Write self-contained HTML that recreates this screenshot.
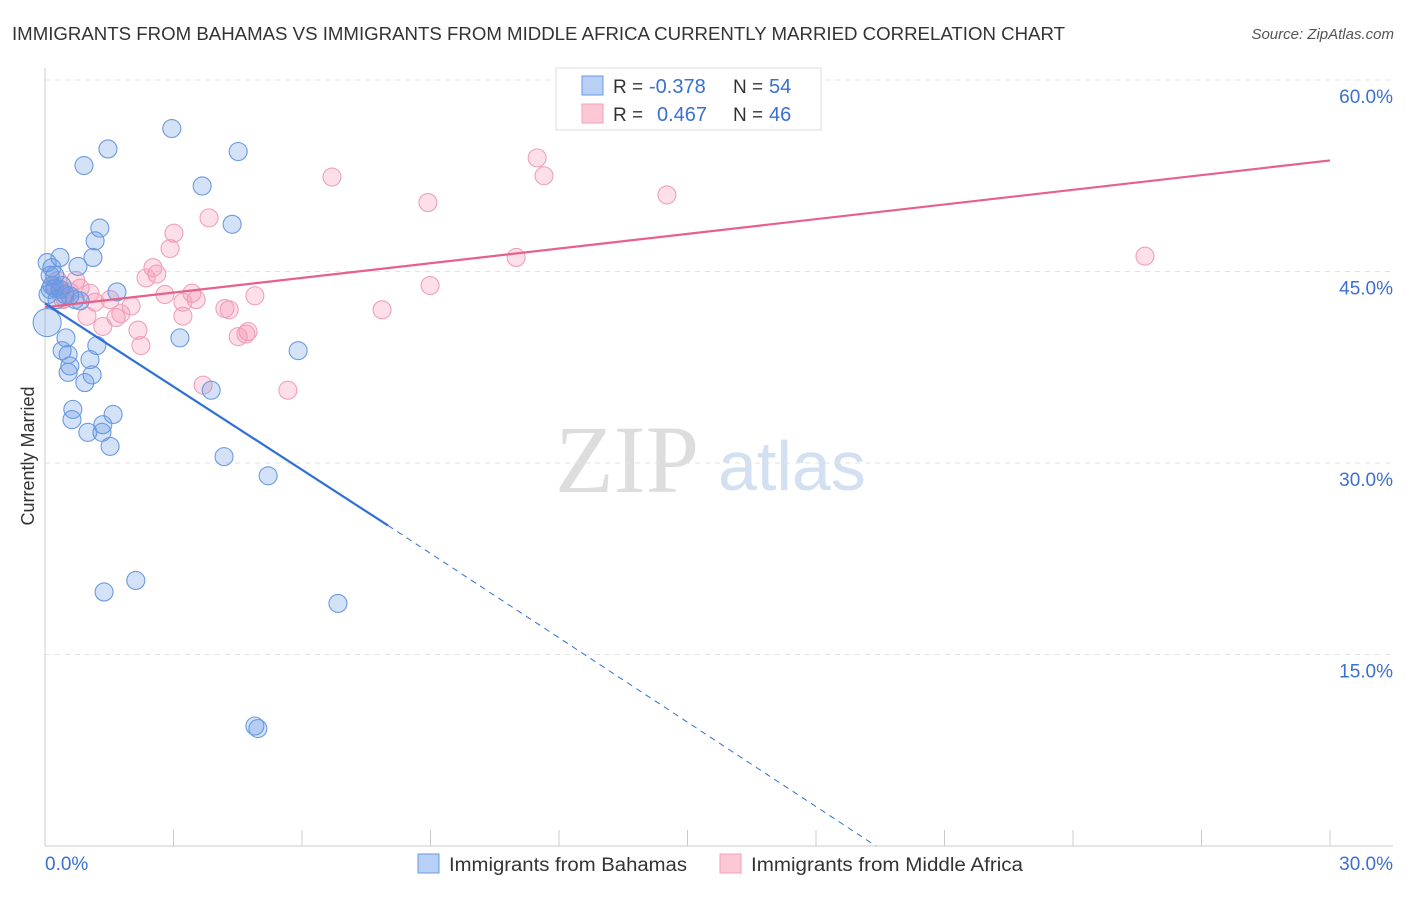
<!DOCTYPE html>
<html><head><meta charset="utf-8"><style>
body{margin:0;background:#fff;font-family:"Liberation Sans",sans-serif}
</style></head><body>
<svg width="1406" height="892" xmlns="http://www.w3.org/2000/svg" id="svg" style="font-family:'Liberation Sans',sans-serif">
<text x="12" y="40" font-size="18" fill="#333" textLength="1053" lengthAdjust="spacingAndGlyphs">IMMIGRANTS FROM BAHAMAS VS IMMIGRANTS FROM MIDDLE AFRICA CURRENTLY MARRIED CORRELATION CHART</text>
<text x="1394" y="39" font-size="15" fill="#555" font-style="italic" text-anchor="end">Source: ZipAtlas.com</text>
<text x="34" y="456" font-size="18" fill="#333" text-anchor="middle" transform="rotate(-90 34 456)">Currently Married</text>
<g>
<text x="555" y="492" font-size="96" font-family="Liberation Serif" fill="#ddd">ZIP</text>
<text x="718" y="490" font-size="70" fill="#d3e0f2">atlas</text>
</g>
<g id="grid"></g><g id="pts"></g><g id="lines"></g>
<g>
<rect x="556" y="68" width="265" height="62" fill="#fff" stroke="#ddd"/>
<rect x="582" y="76" width="21" height="19" fill="#b8d0f5" stroke="#6a9ae0"/>
<rect x="582" y="104" width="21" height="19" fill="#fcc8d6" stroke="#f0a0b8"/>
<text x="613" y="93" font-size="19" fill="#333">R =</text>
<text x="649" y="93" font-size="20" fill="#3a70d0">-0.378</text>
<text x="733" y="93" font-size="19" fill="#333">N =</text>
<text x="769" y="93" font-size="20" fill="#3a70d0">54</text>
<text x="613" y="121" font-size="19" fill="#333">R =</text>
<text x="657" y="121" font-size="20" fill="#3a70d0">0.467</text>
<text x="733" y="121" font-size="19" fill="#333">N =</text>
<text x="769" y="121" font-size="20" fill="#3a70d0">46</text>
</g>
<g>
<rect x="418" y="854" width="21" height="19" fill="#b8d0f5" stroke="#6a9ae0"/>
<text x="449" y="871" font-size="19" fill="#333" textLength="238" lengthAdjust="spacingAndGlyphs">Immigrants from Bahamas</text>
<rect x="720" y="854" width="21" height="19" fill="#fcc8d6" stroke="#f0a0b8"/>
<text x="751" y="871" font-size="19" fill="#333" textLength="272" lengthAdjust="spacingAndGlyphs">Immigrants from Middle Africa</text>
</g>
</svg>
<script>
const yTicks=[15,30,45,60];
const xTickLabels=["0.0%","30.0%"];
const blueX=[2.96,1.47,4.51,0.91,3.67,4.37,1.28,1.17,1.12,0.35,0.77,0.23,0.16,0.35,0.58,0.82,1.68,0.05,0.49,3.15,1.21,0.40,0.54,5.91,1.05,0.58,1.10,0.54,0.93,3.88,0.65,1.59,0.63,1.35,1.00,1.33,1.52,4.18,5.21,2.12,1.38,6.84,4.90,4.97,0.12,0.23,0.47,0.07,0.28,0.70,0.12,0.40,0.05,0.16];
const blueY=[56.2,54.6,54.4,53.3,51.7,48.7,48.4,47.4,46.1,46.1,45.4,44.7,43.9,43.6,43.1,42.7,43.4,41.0,39.8,39.8,39.2,38.8,38.5,38.8,38.1,37.6,36.9,37.1,36.3,35.7,34.2,33.8,33.4,33.0,32.4,32.4,31.3,30.5,29.0,20.8,19.9,19.0,9.4,9.2,44.7,43.7,43.2,43.2,42.8,42.8,43.6,43.9,45.7,45.3];
const pinkX=[11.49,6.70,11.65,14.52,8.94,3.83,3.01,2.92,11.00,25.68,2.52,2.61,2.36,0.72,8.99,0.82,2.80,3.43,4.90,3.53,1.52,1.17,2.01,3.22,4.20,4.30,7.87,0.98,1.66,1.77,3.22,1.35,2.17,4.74,4.51,4.69,2.24,3.69,5.67,0.35,0.47,0.58,0.23,1.05,0.30,0.42];
const pinkY=[53.9,52.4,52.5,51.0,50.4,49.2,48.0,46.8,46.1,46.2,45.3,44.8,44.5,44.3,43.9,43.7,43.2,43.3,43.1,42.8,42.8,42.6,42.3,42.6,42.1,42.0,42.0,41.5,41.4,41.7,41.5,40.7,40.4,40.3,39.9,40.1,39.2,36.1,35.7,43.6,42.9,43.4,43.9,43.3,44.3,42.8];
const blueTrend=[[0,42.5],[8.01,25.1],[19.4,0]];
const pinkTrend=[[0,42.2],[30,53.7]];
const X=v=>45+v/30*1285, Y=v=>846-v/15*191.5;
const NS="http://www.w3.org/2000/svg";
function mk(p,t,a){const e=document.createElementNS(NS,t);for(const k in a)e.setAttribute(k,a[k]);document.getElementById(p).appendChild(e);return e;}
let e;
for(const t of yTicks){
 e=mk('grid','line',{x1:45,x2:1393,y1:Y(t),y2:Y(t),stroke:'#e2e2e2','stroke-dasharray':'5,5'});
 
 
 e=mk('grid','text',{x:1393,y:Y(t)+23,'font-size':19,fill:'#3a70d0','text-anchor':'end'});e.textContent=t.toFixed(1)+'%';
 
 
}
e=mk('grid','line',{x1:45,x2:45,y1:68,y2:846,stroke:'#ccc'});


e=mk('grid','line',{x1:45,x2:1393,y1:846,y2:846,stroke:'#ccc'});


for(let i=0;i<=10;i++){
 e=mk('grid','line',{x1:X(i*3),x2:X(i*3),y1:830,y2:846,stroke:'#ccc'});
 
 
}
e=mk('grid','text',{x:45,y:870,'font-size':19,fill:'#3a70d0'});e.textContent=xTickLabels[0];


e=mk('grid','text',{x:1393,y:870,'font-size':19,fill:'#3a70d0','text-anchor':'end'});e.textContent=xTickLabels[1];


pinkX.forEach((v,i)=>{e=mk('pts','circle',{cx:X(v),cy:Y(pinkY[i]),r:9,fill:'rgba(245,150,180,0.3)',stroke:'#f0a0b8','stroke-width':1.1});
 
 });
blueX.forEach((v,i)=>{e=mk('pts','circle',{cx:X(v),cy:Y(blueY[i]),r:i==17?14:9,fill:'rgba(100,150,230,0.28)',stroke:'#6a9ae0','stroke-width':1.1});
 
 });
e=mk('lines','line',{x1:X(pinkTrend[0][0]),y1:Y(pinkTrend[0][1]),x2:X(pinkTrend[1][0]),y2:Y(pinkTrend[1][1]),stroke:'#e8608a','stroke-width':2.2});


e=mk('lines','line',{x1:X(blueTrend[0][0]),y1:Y(blueTrend[0][1]),x2:X(blueTrend[1][0]),y2:Y(blueTrend[1][1]),stroke:'#2f6fd6','stroke-width':2.2});


e=mk('lines','line',{x1:X(blueTrend[1][0]),y1:Y(blueTrend[1][1]),x2:X(blueTrend[2][0]),y2:Y(blueTrend[2][1]),stroke:'#2f6fd6','stroke-width':1,'stroke-dasharray':'6,5'});


</script>
</body></html>
